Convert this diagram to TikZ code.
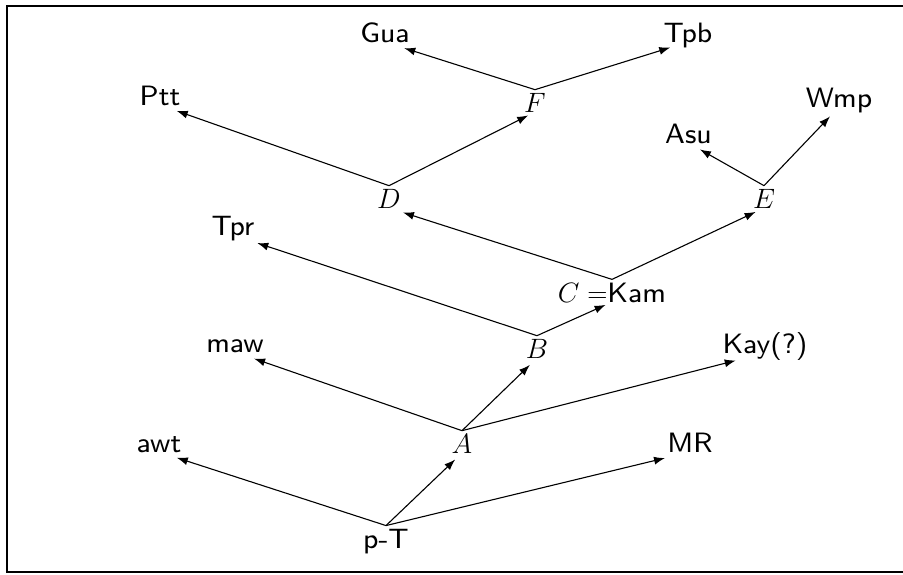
\RequirePackage{fix-cm}
\documentclass[tikz,border=0pt]{standalone}
\usepackage{fontspec}
\setsansfont{lmsans8-regular}[Extension=.otf]
\usetikzlibrary{arrows.meta}
\tikzset{
  lbl/.style={font=\sffamily\fontsize{28}{34}\selectfont, inner sep=3pt, anchor=base},
  edge/.style={line width=1.1pt, -{Latex[length=11pt,width=8pt]}},
  frame/.style={line width=2.2pt}
}
\begin{document}
\begin{tikzpicture}[x=1pt,y=-1pt]
\useasboundingbox (0,0) rectangle (903,574);
\draw[frame] (903,6) -- (7,6) -- (7,572) -- (903,572);
% nodes
\node[lbl] (pT)  at (386,548) {p-T};
\node[lbl] (awt) at (159,452) {awt};
\node[lbl] (MR)  at (690,452) {MR};
\node[lbl] (A)   at (462,453) {$A$};
\node[lbl] (maw) at (235,352) {maw};
\node[lbl] (Kay) at (765,353) {Kay(?)};
\node[lbl] (B)   at (537,358) {$B$};
\node[lbl] (Tpr) at (233,235) {Tpr};
\node[lbl] (C)   at (612,302) {$C =$Kam};
\node[lbl] (D)   at (389,208) {$D$};
\node[lbl] (E)   at (764,208) {$E$};
\node[lbl] (Ptt) at (160,105) {Ptt};
\node[lbl] (F)   at (535,112) {$F$};
\node[lbl] (Gua) at (385,42) {Gua};
\node[lbl] (Tpb) at (688,42) {Tpb};
\node[lbl] (Asu) at (688.5,143) {Asu};
\node[lbl] (Wmp) at (839,107) {Wmp};
% connectors
\draw[edge, shorten >=18.7pt] (pT.north) -- (awt.base);
\draw[edge, shorten >=9.4pt]  (pT.north) -- (A.base);
\draw[edge, shorten >=25.7pt] (pT.north) -- (MR.base);
\draw[edge, shorten >=20.2pt] (A.north) -- (maw.base);
\draw[edge, shorten >=9.9pt]  (A.north) -- (B.base);
\draw[edge, shorten >=30.2pt] (A.north) -- (Kay.base);
\draw[edge, shorten >=25.6pt] (B.north) -- (Tpr.base);
\draw[edge, shorten >=7pt]    (B.north) -- (C.base);
\draw[edge, shorten >=14.6pt] (C.north) -- (D.base);
\draw[edge, shorten >=9.2pt]  (C.north) -- (E.base);
\draw[edge, shorten >=17.7pt] (D.north) -- (Ptt.base);
\draw[edge, shorten >=7.6pt]  (D.north) -- (F.base);
\draw[edge, shorten >=13.1pt] (E.north) -- (Asu.base);
\draw[edge, shorten >=13pt]   (E.north) -- (Wmp.base);
\draw[edge, shorten >=20.2pt] (F.north) -- (Gua.base);
\draw[edge, shorten >=18.6pt] (F.north) -- (Tpb.base);
\end{tikzpicture}
\end{document}
